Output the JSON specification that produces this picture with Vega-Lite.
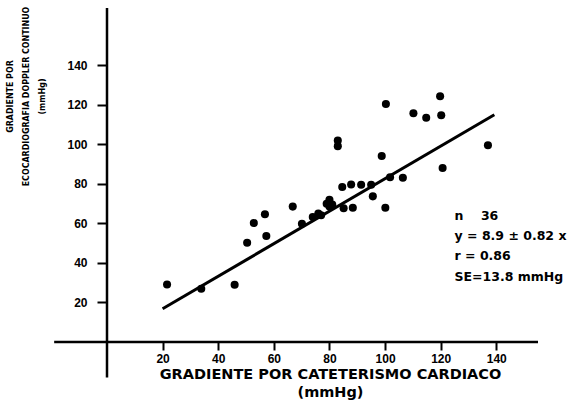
{
  "$schema": "https://vega.github.io/schema/vega-lite/v6.json",
  "width": 431,
  "height": 334,
  "autosize": {"type": "none"},
  "padding": {"left": 107, "top": 8, "right": 45, "bottom": 62},
  "background": "white",
  "config": {"view": {"stroke": null}, "font": "Liberation Sans"},
  "datasets": {
    "points": [
      {"x": 21.6, "y": 29.1}, {"x": 33.9, "y": 26.9}, {"x": 45.9, "y": 29.0},
      {"x": 50.4, "y": 50.2}, {"x": 52.8, "y": 60.2}, {"x": 56.8, "y": 64.6},
      {"x": 57.3, "y": 53.6}, {"x": 66.8, "y": 68.5}, {"x": 70.1, "y": 59.8},
      {"x": 74.0, "y": 63.2}, {"x": 77.0, "y": 64.1}, {"x": 80.0, "y": 72.0},
      {"x": 80.0, "y": 68.6}, {"x": 83.0, "y": 102.0}, {"x": 83.0, "y": 99.1},
      {"x": 84.6, "y": 78.4}, {"x": 87.8, "y": 79.7}, {"x": 85.1, "y": 67.7},
      {"x": 88.4, "y": 67.9}, {"x": 91.4, "y": 79.6}, {"x": 95.0, "y": 79.6},
      {"x": 95.6, "y": 73.7}, {"x": 98.8, "y": 94.1}, {"x": 100.1, "y": 67.9},
      {"x": 100.3, "y": 120.4}, {"x": 101.8, "y": 83.4}, {"x": 106.4, "y": 83.1},
      {"x": 110.2, "y": 115.7}, {"x": 114.8, "y": 113.5}, {"x": 119.8, "y": 124.3},
      {"x": 120.2, "y": 114.7}, {"x": 120.7, "y": 88.0}, {"x": 137.0, "y": 99.6},
      {"x": 76.0, "y": 65.0}, {"x": 79.0, "y": 70.0}, {"x": 81.0, "y": 69.5}
    ],
    "fit": [{"x": 20, "y": 16.8}, {"x": 139.3, "y": 115.0}],
    "axes": [
      {"x": -19, "x2": 155, "y": 0, "y2": 0},
      {"x": 0, "x2": 0, "y": -18, "y2": 169}
    ],
    "notes": [
      {"x": 125, "y": 63.8, "t": "n\u00a0\u00a0\u00a0\u00a036"},
      {"x": 125, "y": 53.7, "t": "y = 8.9 ± 0.82 x"},
      {"x": 125, "y": 43.5, "t": "r = 0.86"},
      {"x": 125, "y": 32.9, "t": "SE=13.8 mmHg"}
    ]
  },
  "layer": [
    {
      "data": {"name": "axes"},
      "mark": {"type": "rule", "color": "black", "strokeWidth": 2.5},
      "encoding": {
        "x": {
          "field": "x", "type": "quantitative",
          "scale": {"domain": [0, 155], "nice": false, "zero": false},
          "axis": {
            "orient": "bottom",
            "values": [20, 40, 60, 80, 100, 120, 140],
            "domain": false, "grid": false,
            "ticks": true, "tickColor": "black", "tickWidth": 2, "tickSize": 8,
            "labelFont": "Liberation Sans", "labelFontWeight": "bold", "labelFontSize": 12,
            "labelColor": "black", "labelPadding": 3,
            "title": ["GRADIENTE POR CATETERISMO CARDIACO", "(mmHg)"],
            "titleFont": "DejaVu Sans", "titleFontWeight": "bold", "titleFontSize": 14.5,
            "titleColor": "black", "titleLineHeight": 18,
            "titleX": 223, "titleY": 25, "titleBaseline": "top", "titleAlign": "center"
          }
        },
        "x2": {"field": "x2"},
        "y": {
          "field": "y", "type": "quantitative",
          "scale": {"domain": [0, 169], "nice": false, "zero": false},
          "axis": {
            "orient": "left",
            "values": [20, 40, 60, 80, 100, 120, 140],
            "domain": false, "grid": false,
            "ticks": true, "tickColor": "black", "tickWidth": 2, "tickSize": 10,
            "labelFont": "Liberation Sans", "labelFontWeight": "bold", "labelFontSize": 12,
            "labelColor": "black", "labelPadding": 10,
            "title": ["GRADIENTE POR", "ECOCARDIOGRAFIA DOPPLER CONTINUO", "(mmHg)"],
            "titleFont": "DejaVu Sans Condensed, Liberation Sans Narrow, Liberation Sans", "titleFontWeight": "bold", "titleFontSize": 8.8,
            "titleColor": "black", "titleLineHeight": 16,
            "titleAngle": 270, "titleAlign": "center", "titleBaseline": "top",
            "titleX": -102, "titleY": 88
          }
        },
        "y2": {"field": "y2"}
      }
    },
    {
      "data": {"name": "fit"},
      "mark": {"type": "line", "color": "black", "strokeWidth": 3},
      "encoding": {
        "x": {"field": "x", "type": "quantitative"},
        "y": {"field": "y", "type": "quantitative"}
      }
    },
    {
      "data": {"name": "points"},
      "mark": {"type": "point", "filled": true, "color": "black", "opacity": 1, "size": 65},
      "encoding": {
        "x": {"field": "x", "type": "quantitative"},
        "y": {"field": "y", "type": "quantitative"}
      }
    },
    {
      "data": {"name": "notes"},
      "mark": {"type": "text", "align": "left", "baseline": "middle", "font": "DejaVu Sans", "fontWeight": "bold", "fontSize": 12.5, "color": "black"},
      "encoding": {
        "x": {"field": "x", "type": "quantitative"},
        "y": {"field": "y", "type": "quantitative"},
        "text": {"field": "t"}
      }
    }
  ]
}
